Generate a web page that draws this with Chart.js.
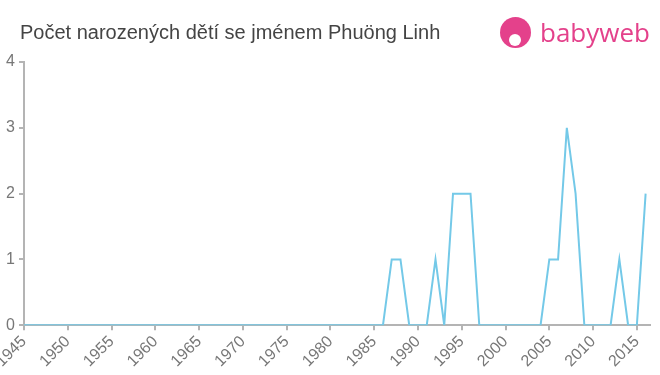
<!DOCTYPE html>
<html>
<head>
<meta charset="utf-8">
<script src="https://cdn.jsdelivr.net/npm/chart.js@4"></script>
<style>
  html, body { margin: 0; padding: 0; background: #fff; }
  #wrap { position: relative; width: 660px; height: 375px; overflow: hidden; }
  #title { position: absolute; left: 20px; top: 21px; font: 20px 'Liberation Sans', Arial, sans-serif; color: #444; white-space: nowrap; }
  #logo { position: absolute; left: 500px; top: 15px; height: 34px; display: flex; align-items: center; }
  #logo .ico { width: 31px; height: 31px; border-radius: 50%; background: #e4418b; position: relative; }
  #logo .ico::after { content: ''; position: absolute; left: 9px; top: 17px; width: 12px; height: 12px; border-radius: 50%; background: #fff; }
  #logo .txt { margin-left: 9px; font: 26px 'Open Sans', 'Noto Sans', sans-serif; color: #e4418b; line-height: 30px; }
  canvas { position: absolute; left: 0; top: 0; }
</style>
</head>
<body>
<div id="wrap">
  <canvas id="chart" width="660" height="375"></canvas>
  <div id="title">Počet narozených dětí se jménem Phuöng Linh</div>
  <div id="logo"><div class="ico"></div><div class="txt">babyweb</div></div>
</div>
<script>
// Data
const years = [1945, 1946, 1947, 1948, 1949, 1950, 1951, 1952, 1953, 1954,
  1955, 1956, 1957, 1958, 1959, 1960, 1961, 1962, 1963, 1964,
  1965, 1966, 1967, 1968, 1969, 1970, 1971, 1972, 1973, 1974,
  1975, 1976, 1977, 1978, 1979, 1980, 1981, 1982, 1983, 1984,
  1985, 1986, 1987, 1988, 1989, 1990, 1991, 1992, 1993, 1994,
  1995, 1996, 1997, 1998, 1999, 2000, 2001, 2002, 2003, 2004,
  2005, 2006, 2007, 2008, 2009, 2010, 2011, 2012, 2013, 2014,
  2015, 2016];
const births = [0, 0, 0, 0, 0, 0, 0, 0, 0, 0,
  0, 0, 0, 0, 0, 0, 0, 0, 0, 0,
  0, 0, 0, 0, 0, 0, 0, 0, 0, 0,
  0, 0, 0, 0, 0, 0, 0, 0, 0, 0,
  0, 0, 1, 1, 0, 0, 0, 1, 0, 2,
  2, 2, 0, 0, 0, 0, 0, 0, 0, 0,
  1, 1, 3, 2, 0, 0, 0, 0, 1, 0,
  0, 2];
const yTicks = [0, 1, 2, 3, 4];

const axisColor = '#b4b4b4';
const labelColor = '#777';

new Chart(document.getElementById('chart').getContext('2d'), {
    type: 'line',
    data: {
        datasets: [{
            data: years.map((y, i) => ({ x: y, y: births[i] })),
            borderColor: '#74c9e8',
            borderWidth: 2,
            pointRadius: 0,
            fill: false,
            tension: 0
        }]
    },
    options: {
        responsive: false,
        animation: false,
        layout: { padding: { top: 62, right: 10, bottom: 2, left: 0 } },
        plugins: {
            legend: { display: false },
            tooltip: { enabled: false }
        },
        scales: {
            x: {
                type: 'linear',
                min: 1945,
                max: 2016.5,
                grid: { drawOnChartArea: false, drawTicks: true, tickLength: 5, color: axisColor, lineWidth: 2 },
                border: { color: axisColor, width: 2 },
                ticks: {
                    stepSize: 5,
                    includeBounds: false,
                    minRotation: 45,
                    maxRotation: 45,
                    padding: 2,
                    color: labelColor,
                    font: { family: "'Liberation Sans', Arial, sans-serif", size: 16 },
                    callback: (v) => String(v)
                },
                afterFit: (scale) => { scale.paddingLeft = 0; scale.paddingRight = 0; }
            },
            y: {
                min: 0,
                max: 4,
                afterBuildTicks: (scale) => { scale.ticks = yTicks.map(v => ({ value: v })); },
                grid: { drawOnChartArea: false, drawTicks: true, tickLength: 5, color: axisColor, lineWidth: 2 },
                border: { color: axisColor, width: 2 },
                ticks: {
                    padding: 4,
                    color: labelColor,
                    font: { family: "'Liberation Sans', Arial, sans-serif", size: 16 }
                },
                afterFit: (scale) => { scale.width = 24; }
            }
        }
    }
});
</script>
</body>
</html>
